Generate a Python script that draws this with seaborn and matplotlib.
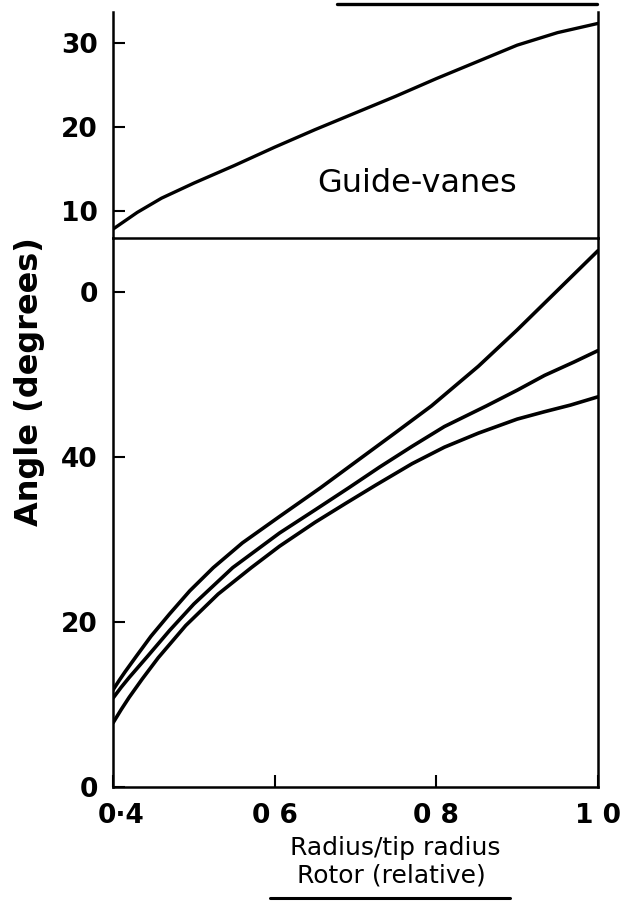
import matplotlib
matplotlib.use("Agg")
import matplotlib.pyplot as plt
from matplotlib.lines import Line2D
from matplotlib.transforms import ScaledTranslation
import pandas as pd
import seaborn as sns

# Guide-vane angle (top panel)
guide_r = [0.40, 0.43, 0.46, 0.50, 0.55, 0.60, 0.65, 0.70, 0.75, 0.80, 0.85, 0.90, 0.95, 1.00]
guide_angle = [7.8, 9.8, 11.5, 13.3, 15.4, 17.6, 19.7, 21.7, 23.7, 25.8, 27.8, 29.8, 31.3, 32.4]

# Rotor angles (bottom panel), three curves
rotor_a_r = [0.400, 0.408, 0.415, 0.429, 0.447, 0.470, 0.495, 0.524, 0.560, 0.606,
             0.657, 0.700, 0.750, 0.794, 0.852, 0.900, 0.950, 1.000]
rotor_a = [11.8, 13.0, 14.0, 15.9, 18.3, 21.0, 23.8, 26.6, 29.6, 32.8,
           36.3, 39.4, 43.0, 46.2, 51.0, 55.4, 60.2, 65.0]

rotor_b_r = [0.400, 0.410, 0.420, 0.443, 0.470, 0.500, 0.548, 0.606, 0.650, 0.692,
             0.730, 0.770, 0.810, 0.862, 0.900, 0.934, 0.970, 1.000]
rotor_b = [10.8, 12.1, 13.3, 15.9, 19.0, 22.2, 26.6, 30.8, 33.6, 36.3,
           38.8, 41.3, 43.7, 46.2, 48.1, 49.9, 51.5, 52.9]

rotor_c_r = [0.400, 0.410, 0.420, 0.436, 0.456, 0.490, 0.530, 0.571, 0.606, 0.650,
             0.688, 0.725, 0.770, 0.810, 0.852, 0.900, 0.934, 0.966, 1.000]
rotor_c = [7.8, 9.4, 10.9, 13.1, 15.7, 19.6, 23.4, 26.6, 29.2, 32.1,
           34.4, 36.6, 39.2, 41.2, 42.9, 44.6, 45.5, 46.3, 47.3]

x_ticks = [0.4, 0.6, 0.8, 1.0]
x_tick_labels = ["0·4", "0 6", "0 8", "1 0"]
top_y_ticks = [10, 20, 30]
bot_y_ticks = [0, 20, 40, 60]
bot_y_tick_labels = ["0", "20", "40", "0"]

sns.set_style("ticks")
plt.rcParams["font.family"] = ["DejaVu Sans"]
plt.rcParams["font.weight"] = "bold"
plt.rcParams["text.color"] = "black"

fig = plt.figure(figsize=(6.22, 9.01), dpi=100)
ax_top = fig.add_axes([0.1817, 0.7355, 0.7797, 0.2515])
ax_bot = fig.add_axes([0.1817, 0.1262, 0.7797, 0.6093])
ax_top.patch.set_alpha(0)
ax_bot.patch.set_alpha(0)
ax_top.set_zorder(2)

guide_df = pd.DataFrame({"r": guide_r, "angle": guide_angle})
sns.lineplot(data=guide_df, x="r", y="angle", color="black", linewidth=2.4,
             estimator=None, ax=ax_top)

curves = [(rotor_a_r, rotor_a), (rotor_b_r, rotor_b), (rotor_c_r, rotor_c)]
for r_vals, ang in curves:
    df = pd.DataFrame({"r": r_vals, "angle": ang})
    sns.lineplot(data=df, x="r", y="angle", color="black", linewidth=2.6,
                 estimator=None, ax=ax_bot)

for ax in (ax_top, ax_bot):
    ax.set_xlim(0.4, 1.0)
    ax.set_xlabel("")
    ax.set_ylabel("")
    ax.spines["top"].set_visible(False)
    for side in ("left", "right", "bottom"):
        ax.spines[side].set_linewidth(1.8)
        ax.spines[side].set_color("black")
    ax.tick_params(direction="in", length=8.5, width=1.5, labelsize=19,
                   pad=11, colors="black")

ax_top.set_ylim(6.7, 33.8)
ax_top.set_yticks(top_y_ticks)
ax_top.set_xticks([])
ax_top.text(0.627, 0.24, "Guide-vanes", transform=ax_top.transAxes,
            fontsize=23, fontweight="normal", ha="center", va="center")

ax_bot.set_ylim(0, 66.5)
ax_bot.set_yticks(bot_y_ticks)
ax_bot.set_yticklabels(bot_y_tick_labels)
ax_bot.set_xticks(x_ticks)
ax_bot.set_xticklabels(x_tick_labels)
first = ax_bot.get_xticklabels()[0]
first.set_transform(first.get_transform() + ScaledTranslation(6 / 72, 0, fig.dpi_scale_trans))

fig.text(30 / 622, 1 - 382 / 901, "Angle (degrees)", rotation=90,
         fontsize=23, ha="center", va="center")
fig.text(395 / 622, 1 - 848 / 901, "Radius/tip radius", fontsize=18,
         fontweight="normal", ha="center", va="center")
fig.text(391 / 622, 1 - 876 / 901, "Rotor (relative)", fontsize=18,
         fontweight="normal", ha="center", va="center")

# rules that appear in the scanned figure
fig.add_artist(Line2D([270 / 622, 510 / 622], [1 - 898 / 901, 1 - 898 / 901],
                      color="black", linewidth=2.2))
fig.add_artist(Line2D([337 / 622, 597 / 622], [1 - 4 / 901, 1 - 4 / 901],
                      color="black", linewidth=2.4))

fig.savefig("out.png", dpi=100)
